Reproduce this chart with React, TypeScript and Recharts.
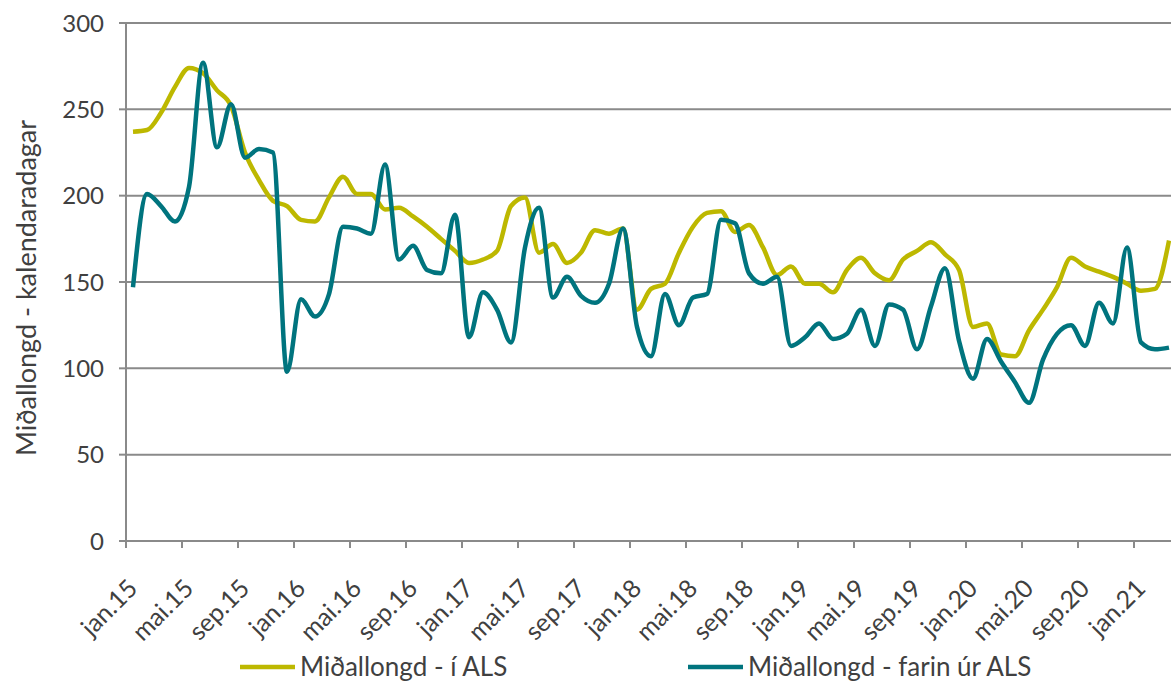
import React from 'react';
import { LineChart, Line, XAxis, YAxis, CartesianGrid, Label } from 'recharts';

// Monthly categories jan.15 – mar.21
const monthNames = ['jan', 'feb', 'mar', 'apr', 'mai', 'jún', 'júl', 'ágú', 'sep', 'okt', 'nóv', 'des'];
const years = ['15', '16', '17', '18', '19', '20', '21'];
const categories: string[] = [];
years.forEach((yr) => monthNames.forEach((m) => categories.push(m + '.' + yr)));
categories.splice(75);

// Tick labels shown on the x axis (every 4th month)
const tickLabels = [
  'jan.15', 'mai.15', 'sep.15', 'jan.16', 'mai.16', 'sep.16', 'jan.17', 'mai.17', 'sep.17',
  'jan.18', 'mai.18', 'sep.18', 'jan.19', 'mai.19', 'sep.19', 'jan.20', 'mai.20', 'sep.20', 'jan.21',
];

const yTicks = [0, 50, 100, 150, 200, 250, 300];

// Miðallongd - í ALS
const inAls = [
  237, 238, 248, 263, 274, 271, 261, 252, 225, 209, 197, 194,
  186, 185, 199, 211, 201, 201, 192, 193, 188, 182, 175, 168,
  161, 163, 168, 194, 199, 167, 172, 161, 167, 180, 178, 181,
  134, 146, 149, 167, 182, 190, 191, 179, 183, 170, 154, 159,
  149, 149, 144, 157, 164, 155, 151, 163, 168, 173, 166, 157,
  124, 126, 108, 107, 122, 134, 147, 164, 159, 156, 153, 149,
  145, 146, 174,
];

// Miðallongd - farin úr ALS
const farin = [
  147, 201, 194, 185, 205, 277, 228, 253, 222, 227, 225, 98,
  140, 130, 143, 182, 181, 178, 218, 163, 171, 157, 155, 189,
  118, 144, 134, 115, 170, 193, 141, 153, 142, 138, 149, 181,
  124, 107, 143, 125, 141, 143, 186, 184, 155, 149, 153, 113,
  118, 126, 117, 120, 134, 113, 137, 134, 111, 136, 158, 116,
  94, 117, 104, 92, 80, 105, 120, 125, 113, 138, 126, 170,
  115, 111, 112,
];

const series = [
  { key: 'inAls', name: 'Miðallongd - í ALS', color: '#BDB800' },
  { key: 'farin', name: 'Miðallongd - farin úr ALS', color: '#00747E' },
];
const legendLeft = [240, 688];

const yTitle = 'Miðallongd - kalendaradagar';

const data = categories.map((c, i) => ({ x: i + 0.5, label: c, inAls: inAls[i], farin: farin[i] }));
const xTicks = tickLabels.map((t) => categories.indexOf(t));

const FONT = 'Lato, "Open Sans", sans-serif';
const TEXT = '#404040';
const GRID = '#8A8A8A';

const XTick = (props: any) => {
  const { x, y, payload } = props;
  const label = categories[payload.value];
  const ax = x + 13;
  const ay = y + 40;
  return (
    <text
      x={ax}
      y={ay}
      textAnchor="end"
      transform={`rotate(-45, ${ax}, ${ay})`}
      fontFamily={FONT}
      fontSize={25}
      fill={TEXT}
    >
      {label}
    </text>
  );
};

const renderYTitle = () => (
  <text
    x={36}
    y={288}
    textAnchor="middle"
    transform="rotate(-90, 36, 288)"
    fontFamily={FONT}
    fontSize={27}
    fill={TEXT}
  >
    {yTitle}
  </text>
);

export default function App() {
  return (
    <div
      style={{
        position: 'fixed',
        left: 0,
        top: 0,
        width: 1171,
        height: 682,
        overflow: 'hidden',
        background: '#fff',
      }}
    >
      <LineChart width={1190} height={682} data={data} margin={{ top: 23, right: 14, bottom: 0, left: 0 }}>
        <CartesianGrid vertical={false} stroke={GRID} strokeWidth={2} />
        <XAxis
          dataKey="x"
          type="number"
          domain={[0, 75]}
          ticks={xTicks}
          interval={0}
          height={141}
          axisLine={{ stroke: GRID, strokeWidth: 2 }}
          tickLine={{ stroke: GRID, strokeWidth: 2 }}
          tickSize={7}
          tick={<XTick />}
          allowDecimals={false}
        />
        <YAxis
          domain={[0, 300]}
          ticks={yTicks}
          width={126}
          axisLine={{ stroke: GRID, strokeWidth: 2 }}
          tickLine={{ stroke: GRID, strokeWidth: 2 }}
          tickSize={7}
          tickMargin={15}
          tick={{ fontFamily: FONT, fontSize: 24, fill: TEXT }}
          interval={0}
        >
          <Label content={renderYTitle} />
        </YAxis>
        {series.map((s) => (
          <Line
            key={s.key}
            type="monotone"
            dataKey={s.key}
            name={s.name}
            stroke={s.color}
            strokeWidth={4.5}
            dot={false}
            activeDot={false}
            isAnimationActive={false}
          />
        ))}
      </LineChart>
      {series.map((s, i) => (
        <div
          key={s.key}
          style={{
            position: 'absolute',
            top: 650,
            left: legendLeft[i],
            height: 32,
            display: 'flex',
            alignItems: 'center',
            fontFamily: FONT,
            fontSize: 26,
            lineHeight: '32px',
            color: TEXT,
            whiteSpace: 'nowrap',
          }}
        >
          <svg width={56} height={32} style={{ display: 'block' }}>
            <line x1={0} y1={17} x2={55} y2={17} stroke={s.color} strokeWidth={4.5} />
          </svg>
          <span style={{ marginLeft: 4 }}>{s.name}</span>
        </div>
      ))}
    </div>
  );
}
